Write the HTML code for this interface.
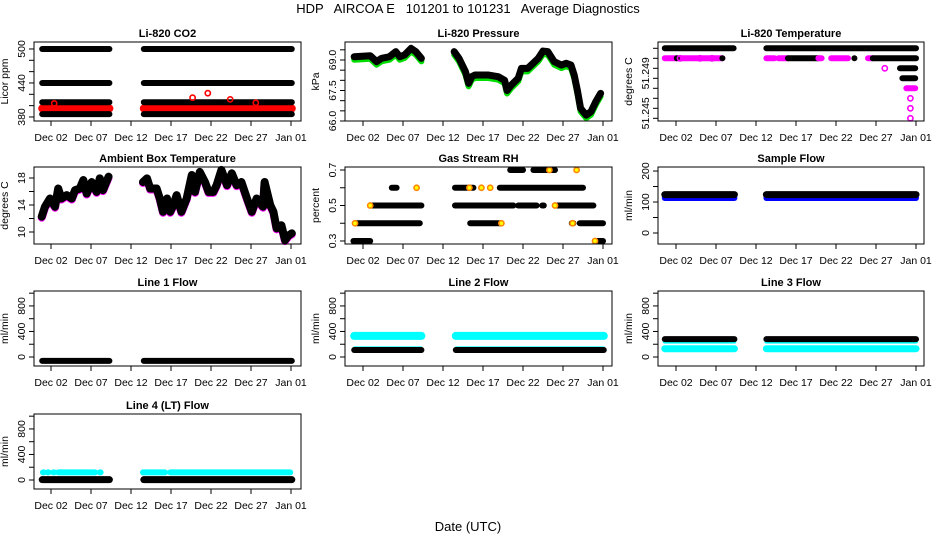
<!DOCTYPE html>
<html><head><meta charset="utf-8">
<style>
html,body{margin:0;padding:0;background:#fff;}
svg{display:block;font-family:"Liberation Sans",Arial,sans-serif;}
</style></head>
<body>
<svg id="chart" width="936" height="540" viewBox="0 0 936 540" xmlns="http://www.w3.org/2000/svg">
<text x="468" y="13" font-size="13" text-anchor="middle" xml:space="preserve">HDP   AIRCOA E   101201 to 101231   Average Diagnostics</text>
<text x="468" y="531" font-size="13" text-anchor="middle">Date (UTC)</text>
</svg>
<script>
// ---- shared x-axis data ----
const xTickDays = [1, 6, 11, 16, 21, 26, 31];
const xTickLabels = ["Dec 02", "Dec 07", "Dec 12", "Dec 17", "Dec 22", "Dec 27", "Jan 01"];
// ---- Li-820 CO2 ----
const co2Ticks = [380, 400, 420, 440, 460, 480, 500];
const co2Labels = [380, 440, 500];
const co2BlackLevels = [500, 440, 406, 385];
const co2RedLevel = 395;
const co2Runs = [[-0.1, 8.3], [12.6, 31.1]];
const co2OutlierDays = [1.4, 18.7, 20.6, 23.4, 26.6];
const co2OutlierVals = [404, 414, 422, 411, 405];
// ---- Li-820 Pressure ----
const pressDays1 = [-0.1, 1.9, 2.7, 3.3, 4.3, 5.1, 5.6, 6.2, 7.0, 7.6, 8.3];
const pressVals1 = [69.16, 69.21, 68.92, 69.08, 69.16, 69.41, 69.16, 69.25, 69.57, 69.41, 69.08];
const pressDays2 = [12.4, 13.0, 13.8, 14.2, 14.6, 15.0, 16.7, 17.9, 18.7, 19.0, 19.5, 20.4, 20.8, 21.6, 22.9, 23.5, 24.1, 24.9, 25.8, 26.4, 27.0, 27.4, 27.8, 28.2, 28.9, 29.5, 30.1, 30.7];
const pressVals2 = [69.41, 69.08, 68.43, 67.85, 68.18, 68.26, 68.26, 68.18, 68.0, 67.5, 67.75, 68.1, 68.59, 68.59, 69.08, 69.44, 69.41, 68.92, 68.75, 68.84, 68.75, 68.26, 67.5, 66.62, 66.29, 66.46, 66.95, 67.36];
// ---- Li-820 Temperature (discrete levels 0..7) ----
const ltLevelLabels = ["51.245", "51.249"];
const ltLevelLabelPos = [0.5, 4.5];
const ltSegStart = [-0.4, 12.3, -0.4, 1.1, 6.8, 12.3, 13.8, 15.0, 18.8, 20.4, 23.3, 25.0, 25.6, 29.0, 29.3, 29.8];
const ltSegEnd = [8.2, 31.0, 6.8, 1.1, 6.8, 13.3, 15.0, 18.8, 19.2, 22.5, 23.3, 25.6, 31.0, 30.9, 30.9, 30.9];
const ltSegLevel = [7, 7, 6, 6, 6, 6, 6, 6, 6, 6, 6, 6, 6, 5, 4, 3];
const ltSegColor = ["#000", "#000", "#f0f", "#000", "#000", "#f0f", "#f0f", "#000", "#f0f", "#f0f", "#000", "#f0f", "#000", "#000", "#000", "#f0f"];
const ltPointDays = [27.1, 30.3, 30.3, 30.3, 1.5, 4.0, 5.5];
const ltPointLevels = [5, 2, 1, 0, 6, 6, 6];
// ---- Ambient Box Temperature ----
const ambDays1 = [-0.16, 0.25, 0.875, 1.5, 1.9, 2.3, 2.96, 3.6, 4.0, 4.6, 5.04, 5.46, 6.08, 6.7, 7.1, 7.5, 8.2];
const ambVals1 = [12.27, 13.75, 14.96, 13.75, 16.44, 14.96, 15.46, 14.96, 16.2, 16.44, 17.7, 15.7, 17.4, 15.95, 17.95, 16.2, 18.2];
const ambDays2 = [12.5, 13.0, 13.4, 14.2, 14.6, 15.0, 15.5, 15.9, 16.3, 16.7, 17.3, 17.96, 18.6, 19.0, 19.6, 20.25, 20.7, 21.3, 21.7, 22.3, 23.0, 23.6, 24.2, 24.8, 25.5, 26.1, 26.7, 27.5, 27.7, 28.4, 28.8, 29.2, 29.8, 30.25, 30.7, 31.1];
const ambVals2 = [17.4, 17.95, 16.44, 16.44, 14.96, 13.0, 14.96, 13.0, 14.0, 15.46, 13.0, 14.96, 18.44, 15.95, 18.9, 17.4, 15.95, 15.95, 16.94, 19.2, 16.94, 18.7, 16.94, 17.4, 14.96, 13.0, 14.96, 13.75, 17.4, 14.0, 13.0, 10.54, 11.0, 8.8, 9.5, 9.8];
// ---- Gas Stream RH ----
const rhSegStart = [-0.2, 30.0, 0.0, 14.4, 27.1, 28.1, 1.9, 12.5, 20.4, 23.4, 25.0, 4.6, 12.5, 18.1, 19.4, 22.3];
const rhSegEnd = [1.9, 31.0, 8.1, 18.3, 27.3, 31.0, 8.3, 19.8, 22.7, 23.6, 29.8, 5.2, 14.8, 28.5, 21.0, 25.0];
const rhSegVal = [0.3, 0.3, 0.4, 0.4, 0.4, 0.4, 0.5, 0.5, 0.5, 0.5, 0.5, 0.6, 0.6, 0.6, 0.7, 0.7];
const rhOrangeDays = [7.7, 15.8, 16.9, 14.3, 18.3, 27.7, 1.9, 25.0, 30.0, 0.0, 27.2, 24.3];
const rhOrangeVals = [0.6, 0.6, 0.6, 0.6, 0.4, 0.7, 0.5, 0.5, 0.3, 0.4, 0.4, 0.7];
// ---- Sample Flow ----
const sfTicks = [0, 50, 100, 150, 200];
const sfLabels = [0, 100, 200];
const sfRuns = [[-0.4, 8.3], [12.3, 31.0]];
const sfBlack = 124;
const sfBlue = 113;
// ---- Line flows ----
const flowTicks = [0, 200, 400, 600, 800, 1000];
const flowLabels = [0, 400, 800];
const l1Black = -60;
const l2Cyan = 330, l2CyanThin = 150, l2Black = 110;
const l3Black = 280, l3CyanThin = 240, l3Cyan = 130;
const l4Black = 5;
const l4CyanStart = [0.0, 0.6, 1.3, 1.9, 7.1, 12.5, 15.9];
const l4CyanEnd = [0.1, 0.7, 1.4, 6.5, 7.2, 15.25, 30.9];
const l4Cyan = 120;

const NS = "http://www.w3.org/2000/svg";
const svg = document.getElementById("chart");
function mk(tag, attrs, parent) {
  const e = document.createElementNS(NS, tag);
  for (const k in attrs) e.setAttribute(k, attrs[k]);
  (parent || svg).appendChild(e);
  return e;
}
const cols = [{x0: 34, x1: 301, dmin: -1.125, dmax: 32.25}, {x0: 345, x1: 612, dmin: -1.25, dmax: 32.125}, {x0: 658, x1: 924, dmin: -1.25, dmax: 32.0}];
const rows = [{y0: 42, y1: 121}, {y0: 167, y1: 244}, {y0: 291, y1: 366}, {y0: 414, y1: 489}];

function panel(name, title, ci, ri, vmin, vmax, ylab, ticks, labels, labelPos) {
  const c = cols[ci], r = rows[ri];
  const g = mk("g", {});
  
  
  const P = {g, c, r,
    X: d => c.x0 + (d - c.dmin) / (c.dmax - c.dmin) * (c.x1 - c.x0),
    Y: v => r.y1 - (v - vmin) / (vmax - vmin) * (r.y1 - r.y0)};
  const t = mk("text", {x: (c.x0 + c.x1) / 2, y: r.y0 - 5, "font-size": 11, "font-weight": "bold", "text-anchor": "middle"}, g);
  t.textContent = title;
  
  
  const cx = c.x0 - 26;
  const yl = mk("text", {x: 0, y: 0, "font-size": 10.5, "text-anchor": "middle", transform: `translate(${cx},${(r.y0 + r.y1) / 2}) rotate(-90)`}, g);
  yl.textContent = ylab;
  
  
  P.data = mk("g", {}, g);
  
  
  ticks.forEach(v => mk("line", {x1: c.x0 - 5, x2: c.x0, y1: P.Y(v), y2: P.Y(v), stroke: "#000"}, g));
  labels.forEach((l, i) => {
    const yy = P.Y(labelPos ? labelPos[i] : l);
    const tx = mk("text", {x: 0, y: 0, "font-size": 10.5, "text-anchor": "middle", transform: `translate(${c.x0 - 9},${yy}) rotate(-90)`}, g);
    tx.textContent = l;
    
    
  });
  xTickDays.forEach((d, i) => {
    mk("line", {x1: P.X(d), x2: P.X(d), y1: r.y1, y2: r.y1 + 5, stroke: "#000"}, g);
    const tx = mk("text", {x: P.X(d), y: r.y1 + 20, "font-size": 10.5, "text-anchor": "middle"}, g);
    tx.textContent = xTickLabels[i];
    
    
  });
  const box = mk("rect", {x: c.x0, y: r.y0, width: c.x1 - c.x0, height: r.y1 - r.y0, fill: "none", stroke: "#000"}, g);
  
  
  return P;
}
function band(P, d0, d1, v, color, w) {
  const l = mk("line", {x1: P.X(d0), x2: P.X(d1), y1: P.Y(v), y2: P.Y(v), stroke: color, "stroke-width": w, "stroke-linecap": "round"}, P.data);
  
  
}
function pt(P, d, v, color, fill) {
  const c = mk("circle", {cx: P.X(d), cy: P.Y(v), r: 2.6, fill: fill || "none", stroke: color, "stroke-width": 1.6}, P.data);
  
  
}
function line(P, ds, vs, color, w, off) {
  const pts = ds.map((d, i) => P.X(d) + "," + (P.Y(vs[i]) + (off || 0))).join(" ");
  const l = mk("polyline", {points: pts, fill: "none", stroke: color, "stroke-width": w, "stroke-linejoin": "round", "stroke-linecap": "round"}, P.data);
  
  
}

let P = panel("co2-panel", "Li-820 CO2", 0, 0, 372.9, 512.3, "Licor ppm", co2Ticks, co2Labels);
co2Runs.forEach(([a, b]) => band(P, a, b, co2RedLevel, "#f00", 8));
co2Runs.forEach(([a, b]) => co2BlackLevels.forEach(v => band(P, a, b, v, "#000", 6)));
co2OutlierDays.forEach((d, i) => pt(P, d, co2OutlierVals[i], "#f00"));

P = panel("pressure-panel", "Li-820 Pressure", 1, 0, 66.0, 69.885, "kPa", [66, 66.5, 67, 67.5, 68, 68.5, 69, 69.5], ["66.0", "67.5", "69.0"], [66, 67.5, 69]);
line(P, pressDays1, pressVals1, "#0d0", 6, 3); line(P, pressDays2, pressVals2, "#0d0", 6, 3);
line(P, pressDays1, pressVals1, "#000", 7); line(P, pressDays2, pressVals2, "#000", 7);

P = panel("li820-temp-panel", "Li-820 Temperature", 2, 0, -0.27, 7.63, "degrees C", [0, 1, 2, 3, 4, 5, 6, 7], ltLevelLabels, ltLevelLabelPos);
ltSegStart.forEach((s, i) => band(P, s, ltSegEnd[i], ltSegLevel[i], ltSegColor[i], 6));
ltPointDays.forEach((d, i) => pt(P, d, ltPointLevels[i], "#f0f"));

P = panel("ambient-temp-panel", "Ambient Box Temperature", 0, 1, 8.22, 19.63, "degrees C", [10, 12, 14, 16, 18], [10, 14, 18]);
line(P, ambDays1, ambVals1, "#f0f", 8, 1); line(P, ambDays2, ambVals2, "#f0f", 8, 1);
line(P, ambDays1, ambVals1, "#000", 8); line(P, ambDays2, ambVals2, "#000", 8);

P = panel("rh-panel", "Gas Stream RH", 1, 1, 0.283, 0.717, "percent", [0.3, 0.4, 0.5, 0.6, 0.7], ["0.3", "0.5", "0.7"], [0.3, 0.5, 0.7]);
rhSegStart.forEach((s, i) => band(P, s, rhSegEnd[i], rhSegVal[i], "#000", 6));
rhOrangeDays.forEach((d, i) => pt(P, d, rhOrangeVals[i], "#f80", "#ff0"));

P = panel("sample-flow-panel", "Sample Flow", 2, 1, -35.5, 213, "ml/min", sfTicks, sfLabels);
sfRuns.forEach(([a, b]) => band(P, a, b, sfBlue, "#00f", 6));
sfRuns.forEach(([a, b]) => band(P, a, b, sfBlack, "#000", 7));

P = panel("line1-flow-panel", "Line 1 Flow", 0, 2, -141, 1034, "ml/min", flowTicks, flowLabels);
co2Runs.forEach(([a, b]) => band(P, a, b, l1Black, "#000", 6));
P = panel("line2-flow-panel", "Line 2 Flow", 1, 2, -141, 1034, "ml/min", flowTicks, flowLabels);
co2Runs.forEach(([a, b]) => { band(P, a, b, l2Cyan, "#0ff", 8); band(P, a, b, l2CyanThin, "#0ff", 2); band(P, a, b, l2Black, "#000", 6); });
P = panel("line3-flow-panel", "Line 3 Flow", 2, 2, -141, 1034, "ml/min", flowTicks, flowLabels);
sfRuns.forEach(([a, b]) => { band(P, a, b, l3CyanThin, "#0ff", 4); band(P, a, b, l3Black, "#000", 6); band(P, a, b, l3Cyan, "#0ff", 7); });
P = panel("line4-flow-panel", "Line 4 (LT) Flow", 0, 3, -141, 1034, "ml/min", flowTicks, flowLabels);
l4CyanStart.forEach((s, i) => band(P, s, l4CyanEnd[i], l4Cyan, "#0ff", 6));
co2Runs.forEach(([a, b]) => band(P, a, b, l4Black, "#000", 7));
</script>
</body></html>
